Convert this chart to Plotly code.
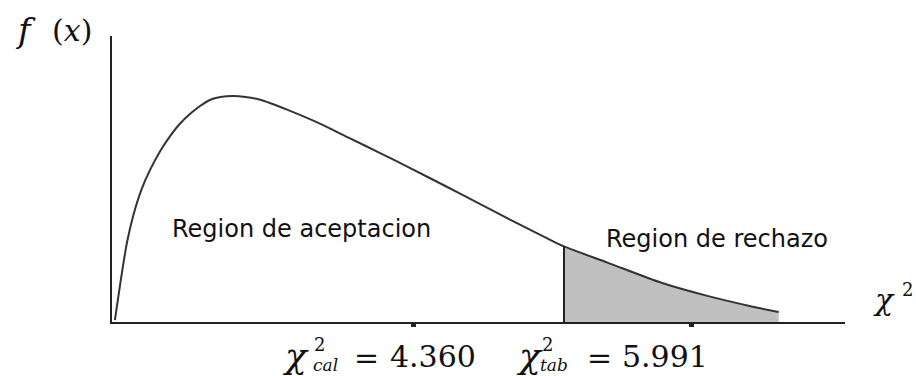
import plotly.graph_objects as go

# Chi-square density curve (schematic), x in chi-square units, y as density
curve_x = [1.14, 1.20, 1.27, 1.34, 1.43, 1.52, 1.63, 1.74, 1.84, 1.95, 2.06, 2.17,
           2.28, 2.42, 2.55, 2.71, 3.00, 3.32, 3.68, 4.00, 4.33, 4.73, 5.05,
           5.44, 5.81, 5.991, 6.46, 7.06, 7.54, 8.03, 8.31]
curve_y = [0.002, 0.044, 0.088, 0.119, 0.148, 0.169, 0.190, 0.207, 0.220, 0.231,
           0.240, 0.247, 0.250, 0.251, 0.250, 0.247, 0.236, 0.222, 0.204, 0.188,
           0.171, 0.150, 0.133, 0.112, 0.093, 0.084, 0.066, 0.043, 0.029, 0.017,
           0.011]

chi_cal = 4.360
chi_tab = 5.991
tick_marks = [chi_cal, 7.37]

x_range = [1.1088, 9.0263]
y_range = [0.0, 0.3178]

label_accept = "Region de aceptacion"
label_reject = "Region de rechazo"

W, H = 916, 376
M = dict(l=112, r=71, t=36, b=54)
PW = W - M["l"] - M["r"]
PH = H - M["t"] - M["b"]


def px(xp):
    return (xp - M["l"]) / PW


def py(yp):
    return (H - M["b"] - yp) / PH


fig = go.Figure()

# rejection region: tail of the curve beyond the critical value
tail = [(x, y) for x, y in zip(curve_x, curve_y) if x >= chi_tab]
fig.add_trace(go.Scatter(
    x=[t[0] for t in tail], y=[t[1] for t in tail],
    mode="lines", line=dict(width=0, shape="spline", smoothing=0.8),
    fill="tozeroy", fillcolor="#c0c0c0", hoverinfo="skip"))

# density curve
fig.add_trace(go.Scatter(
    x=curve_x, y=curve_y, mode="lines",
    line=dict(color="#333333", width=2, shape="spline", smoothing=0.8),
    hoverinfo="skip"))

# critical value line
crit_y = curve_y[curve_x.index(chi_tab)]
fig.add_trace(go.Scatter(
    x=[chi_tab, chi_tab], y=[0, crit_y], mode="lines",
    line=dict(color="#222222", width=2), hoverinfo="skip"))

serif = "DejaVu Serif"
ann = []


def text(s, xp, yp, size, family=serif, italic=False, anchor="center"):
    ann.append(dict(
        text=s, x=px(xp), y=py(yp), xref="paper", yref="paper",
        xanchor=anchor, yanchor="middle", showarrow=False, borderpad=0,
        font=dict(family=family, size=size, color="#111111",
                  style="italic" if italic else "normal")))


# axis titles
text("f", 25, 30, 34, italic=True)
text("(<i>x</i>)", 72, 31, 30)
text("χ", 884, 299, 30, italic=True)
text("2", 907, 289, 18)

# region labels
text(label_accept, 171, 229, 24, family="DejaVu Sans", anchor="left")
text(label_reject, 605, 239, 24, family="DejaVu Sans", anchor="left")

# calculated statistic
text("χ", 295, 355, 36, italic=True)
text("2", 319, 344, 18)
text("cal", 325, 365, 17, italic=True)
text("=", 366, 357, 30)
text(f"{chi_cal:.3f}", 433, 356, 30)

# tabulated (critical) value
text("χ", 529, 355, 36, italic=True)
text("2", 547, 344, 18)
text("tab", 554, 365, 17, italic=True)
text("=", 599, 357, 30)
text(f"{chi_tab:.3f}", 665, 356, 30)

fig.update_layout(
    width=W, height=H, margin=M,
    paper_bgcolor="white", plot_bgcolor="white",
    showlegend=False, annotations=ann,
    xaxis=dict(range=x_range, showgrid=False, zeroline=False,
               showline=True, linecolor="#222222", linewidth=2,
               ticks="outside", tickvals=tick_marks, ticklen=3,
               tickwidth=5, tickcolor="#222222", showticklabels=False),
    yaxis=dict(range=y_range, showgrid=False, zeroline=False,
               showline=True, linecolor="#222222", linewidth=2,
               showticklabels=False, ticks=""),
)

fig.write_html("out.html", config=dict(displayModeBar=False))
